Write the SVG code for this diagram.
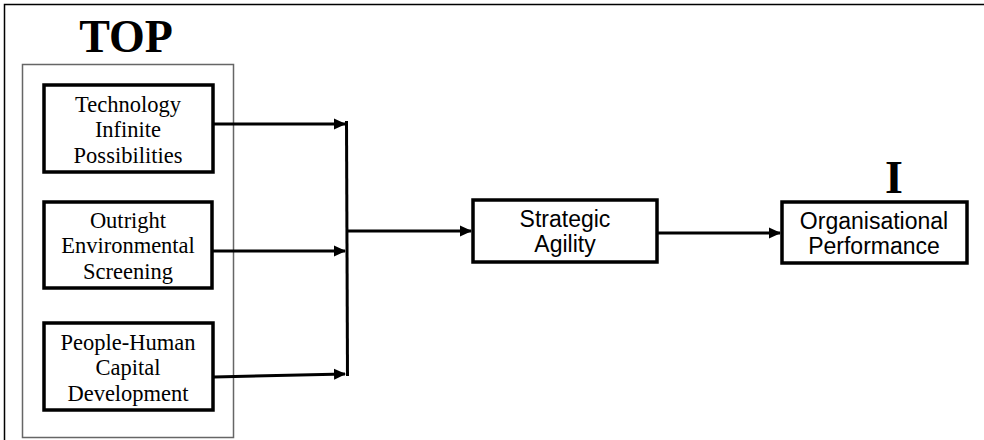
<svg xmlns="http://www.w3.org/2000/svg" width="984" height="440" viewBox="0 0 984 440">
<style>
.box{fill:#fff;stroke:#000;stroke-width:3.5}
.serif{font-family:"Liberation Serif","Times New Roman",serif;font-size:22.5px;fill:#000;text-anchor:middle}
.sans{font-family:"Liberation Sans",Arial,sans-serif;font-size:23px;fill:#000;text-anchor:middle}
.big{font-family:"Liberation Serif","Times New Roman",serif;font-size:46px;font-weight:bold;fill:#000;text-anchor:middle}
.ln{fill:none;stroke:#000;stroke-width:3}
</style>
<defs>
<marker id="ah" markerWidth="12" markerHeight="12" refX="11" refY="6" orient="auto" markerUnits="userSpaceOnUse"><path d="M0,0.5 L12,6 L0,11.5 Z" fill="#000"/></marker>
</defs>
<rect width="984" height="440" fill="#fff"/>
<path d="M4.5,440 V4.5 H984" fill="none" stroke="#000" stroke-width="1.5"/>
<text class="big" x="126" y="52">TOP</text>
<rect x="22.5" y="64.5" width="211" height="373" fill="none" stroke="#666" stroke-width="1.5"/>
<g id="n1"><rect class="box" x="44" y="85" width="169" height="87"/>
<text class="serif" x="128" y="112">Technology</text><text class="serif" x="128" y="137">Infinite</text><text class="serif" x="128" y="163">Possibilities</text></g>
<g id="n2"><rect class="box" x="44" y="202" width="168" height="86"/>
<text class="serif" x="128" y="228">Outright</text><text class="serif" x="128" y="253">Environmental</text><text class="serif" x="128" y="279">Screening</text></g>
<g id="n3"><rect class="box" x="44" y="323" width="169" height="87"/>
<text class="serif" x="128" y="350">People-Human</text><text class="serif" x="128" y="375">Capital</text><text class="serif" x="128" y="401">Development</text></g>
<g id="n4"><rect class="box" x="473" y="200" width="184" height="62"/>
<text class="sans" x="565" y="227">Strategic</text><text class="sans" x="565" y="252">Agility</text></g>
<g id="n5"><rect class="box" x="782" y="202" width="185" height="61"/>
<text class="sans" x="874" y="229">Organisational</text><text class="sans" x="874" y="254">Performance</text></g>
<text class="big" x="894" y="193">I</text>
<g id="connectors">
<line class="ln" x1="214" y1="124" x2="345" y2="124" marker-end="url(#ah)"/>
<line class="ln" x1="213" y1="251" x2="345" y2="251" marker-end="url(#ah)"/>
<line class="ln" x1="214" y1="377" x2="345" y2="374" marker-end="url(#ah)"/>
<line class="ln" x1="346.5" y1="121" x2="347.5" y2="376"/>
<line class="ln" x1="347" y1="231" x2="471" y2="231" marker-end="url(#ah)"/>
<line class="ln" x1="658" y1="233" x2="780" y2="233" marker-end="url(#ah)"/>
</g>
</svg>
